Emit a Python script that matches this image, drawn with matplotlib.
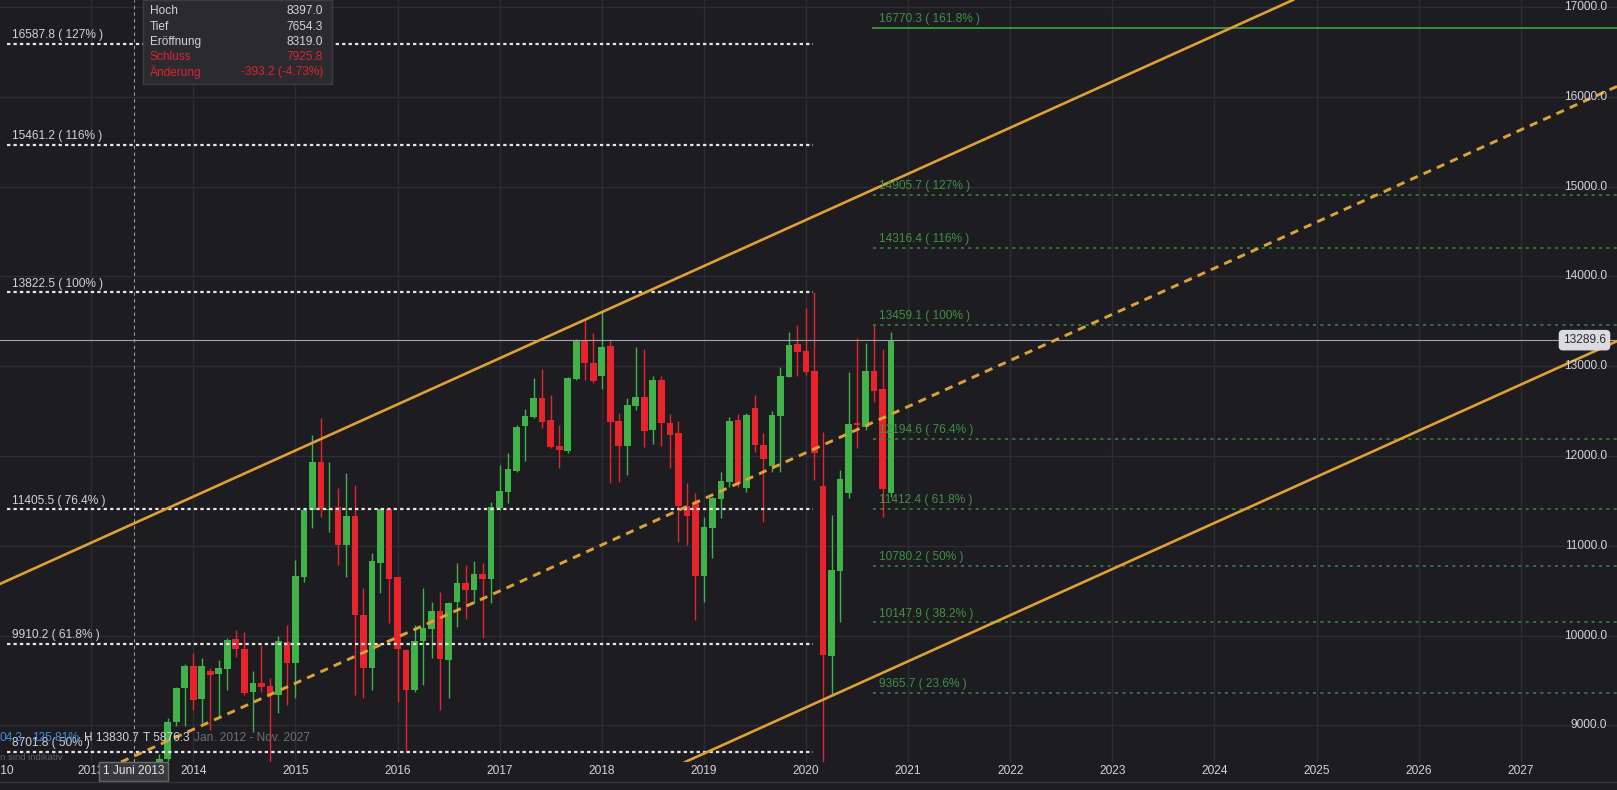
import numpy as np
import matplotlib
matplotlib.use('Agg')
import matplotlib.pyplot as plt
from matplotlib.patches import Rectangle
from matplotlib.lines import Line2D
from matplotlib.transforms import blended_transform_factory

plt.rcParams['font.family'] = ['Liberation Sans', 'DejaVu Sans']

# monthly candles, Jun 2013 .. Nov 2020 (month index 0 = Jan 2014)
first_month = -7
opens = [8319.0, 7926, 8300, 8140, 8625, 9038, 9413,
         9661, 9294, 9606, 9572, 9632, 9958, 9847, 9375, 9468, 9438, 9338, 9932,
         9698, 10656, 11399, 11937, 11395, 11436, 11009, 11332, 10229, 9635, 10812, 11406,
         10656, 9840, 9394, 9943, 10070, 10274, 9728, 10378, 10589, 10508, 10682, 10630,
         11417, 11603, 11837, 12334, 12438, 12642, 12401, 12115, 12059, 12854, 13292, 13039,
         12891, 13225, 12390, 12115, 12560, 12661, 12289, 12846, 12371, 12252, 11443, 11473,
         10664, 11194, 11521, 11707, 12401, 11647, 12531, 12122, 11889, 12445, 12883, 13247,
         13169, 12946, 11666, 9777, 10723, 11592, 12371, 12326, 12946, 12746, 11592]
highs = [8397.0, 8480, 8450, 8680, 9078, 9431, 9680,
         9802, 9747, 9635, 9728, 9970, 10062, 10036, 9606, 9895, 9524, 9995, 10118,
         10842, 11406, 12234, 12419, 11937, 11640, 11807, 11677, 10526, 10923, 11417, 11420,
         10660, 9850, 10118, 10526, 10378, 10482, 10378, 10812, 10786, 10831, 10812, 11491,
         11900, 12037, 12345, 12520, 12865, 12965, 12679, 12345, 12880, 13299, 13514, 13366,
         13607, 13299, 12475, 12642, 13218, 13188, 12891, 12891, 12468, 12390, 11695, 11584,
         11324, 11547, 11826, 12438, 12468, 12475, 12675, 12260, 12505, 12987, 13377, 13459,
         13644, 13830.7, 12271, 11343, 11844, 12939, 13310, 13262, 13459, 13188, 13385]
lows = [7654.3, 7800, 8060, 8110, 8600, 8990, 8990,
        9171, 9023, 8949, 9097, 9394, 9758, 9340, 8930, 9376, 8596, 9134, 9227,
        9300, 10600, 11194, 11324, 11157, 10786, 10656, 9338, 9301, 9394, 10471, 10136,
        9264, 8707, 9375, 9450, 9747, 9171, 9301, 10099, 10181, 10359, 9969, 10359,
        11400, 11473, 11826, 11944, 12419, 12308, 12090, 11863, 12037, 12850, 12846, 12809,
        12742, 11703, 11714, 11788, 12512, 12104, 12134, 12111, 11863, 11046, 11009, 10174,
        10378, 10860, 11306, 11658, 11658, 11603, 12041, 11269, 11825, 11825, 12876, 12891,
        12900, 11733, 8577, 9338, 10155, 11528, 12085, 12290, 12600, 11324, 11547]
closes = [7925.8, 8300, 8140, 8625, 9038, 9413, 9661,
          9282, 9661, 9561, 9635, 9951, 9847, 9364, 9468, 9431, 9338, 9943, 9691,
          10664, 11399, 11937, 11406, 11415, 11009, 11332, 10229, 9635, 10831, 11406, 10626,
          9847, 9394, 9940, 10081, 10274, 9736, 10367, 10582, 10508, 10682, 10627, 11436,
          11610, 11851, 12327, 12445, 12642, 12382, 12104, 12067, 12872, 13292, 13039, 12839,
          13218, 12382, 12115, 12568, 12661, 12282, 12846, 12371, 12234, 11443, 11332, 10664,
          11206, 11528, 11722, 12390, 11703, 12457, 12126, 11967, 12457, 12891, 13236, 13162,
          12939, 12037, 9784, 10730, 11744, 12356, 12345, 12946, 12727, 11632, 13289.6]

# fib retracement (white) and fib extension (green)
fib_white_levels = [16587.8, 15461.2, 13822.5, 11405.5, 9910.2, 8701.8]
fib_white_pct = ['127%', '116%', '100%', '76.4%', '61.8%', '50%']
fib_white_span = (-21.9, 72.8)
fib_green_levels = [16770.3, 14905.7, 14316.4, 13459.1, 12194.6, 11412.4, 10780.2, 10147.9, 9365.7]
fib_green_pct = ['161.8%', '127%', '116%', '100%', '76.4%', '61.8%', '50%', '38.2%', '23.6%']
fib_green_start = 79.9

# parallel channel anchors (Jan 2012 -> Nov 2027)
chan_months = (-24, 166)
chan_upper = (10520, 18652)
chan_middle = (7928, 16060)
chan_lower = (5091, 13223)

last_price = 13289.6
price_ticks = [9000, 10000, 11000, 12000, 13000, 14000, 15000, 16000, 17000]
years = list(range(2013, 2028))

BG = '#1c1c21'
GRID = '#2c2c33'
UP = '#41b14a'
DOWN = '#e8232b'
ORANGE = '#dea135'
TXT = '#d2d4d8'
GREEN_TXT = '#3f9143'
FS = 8.6

W, H = 1617, 790
fig = plt.figure(figsize=(W / 100, H / 100), dpi=100)
fig.patch.set_facecolor(BG)
ax = fig.add_axes([0, 28 / H, 1, 762 / H])
ax.set_facecolor(BG)
ax.set_xlim(-22.71, 167.3)
ax.set_ylim(8592, 17078)
ax.axis('off')

# grid
for yr in years:
    ax.axvline((yr - 2014) * 12, color=GRID, lw=1, zorder=0)
for p in price_ticks:
    ax.axhline(p, color=GRID, lw=1, zorder=0)

# candles
x = np.arange(first_month, first_month + len(opens))
o = np.array(opens); c = np.array(closes)
hi = np.array(highs); lo = np.array(lows)
cols = np.where(c >= o, UP, DOWN)
ax.vlines(x, lo, hi, colors=cols, lw=1, zorder=2)
ax.bar(x, np.maximum(np.abs(c - o), 12), bottom=np.minimum(o, c), width=0.78,
       color=cols, zorder=2)

# white fib levels
for lev, pct in zip(fib_white_levels, fib_white_pct):
    ax.plot(fib_white_span, [lev, lev], color='#e6e6e6', lw=1.6, dashes=(1.5, 1.4), zorder=3)
    ax.annotate(f'{lev:.1f} ( {pct} )', (fib_white_span[0], lev), xytext=(4, 2),
                textcoords='offset points', color=TXT, fontsize=FS, va='bottom', zorder=5)

# green fib levels
for i, (lev, pct) in enumerate(zip(fib_green_levels, fib_green_pct)):
    if i == 0:
        ax.plot([fib_green_start, 170], [lev, lev], color='#3c9a40', lw=1.3, zorder=3)
    else:
        ax.plot([fib_green_start, 170], [lev, lev], color='#3a8a3d', lw=1.1,
                dashes=(2, 2.8), zorder=3)
    ax.annotate(f'{lev:.1f} ( {pct} )', (fib_green_start, lev), xytext=(4, 2),
                textcoords='offset points', color=GREEN_TXT, fontsize=FS, va='bottom', zorder=5)

# channel
ax.axline((chan_months[0], chan_upper[0]), (chan_months[1], chan_upper[1]),
          color=ORANGE, lw=1.9, zorder=4)
ax.axline((chan_months[0], chan_lower[0]), (chan_months[1], chan_lower[1]),
          color=ORANGE, lw=1.9, zorder=4)
ax.axline((chan_months[0], chan_middle[0]), (chan_months[1], chan_middle[1]),
          color=ORANGE, lw=2.1, dashes=(2.8, 2.2), zorder=4)

# last price line + crosshair
ax.axhline(last_price, color='#a3a4ab', lw=0.8, zorder=3)
ax.axvline(first_month, color='#9a9ba3', lw=0.8, dashes=(3, 3), zorder=3)

# price axis labels (overlay on the right)
ytr = blended_transform_factory(fig.transFigure, ax.transData)
for p in price_ticks:
    ax.text(1607 / W, p, f'{p:.1f}', transform=ytr, ha='right', va='center',
            color=TXT, fontsize=FS, zorder=6)
ax.text(1606 / W, last_price, f'{last_price:.1f}', transform=ytr, ha='right', va='center',
        color='#2a2a2e', fontsize=FS, zorder=7,
        bbox=dict(boxstyle='round,pad=0.3', fc='#dcdce0', ec='#dcdce0'))

# time axis labels
xtr = blended_transform_factory(ax.transData, fig.transFigure)
ax.text(-22.6, 1 - 771.5 / H, '2010', transform=xtr, ha='center', va='center',
        color=TXT, fontsize=FS, clip_on=False)
for yr in years:
    ax.text((yr - 2014) * 12, 1 - 771.5 / H, str(yr), transform=xtr, ha='center',
            va='center', color=TXT, fontsize=FS, clip_on=False)
ax.text(first_month, 1 - 771.5 / H, '1 Juni 2013', transform=xtr, ha='center', va='center',
        color='#e8e8ea', fontsize=FS, zorder=8,
        bbox=dict(boxstyle='square,pad=0.3', fc='#38383d', ec='#6a6a70'))
fig.add_artist(Line2D([0, 1], [1 - 782 / H] * 2, color='#34343a', lw=1))

# channel stats row
row_y = 1 - 738 / H
fig.text(0, row_y, '04.3', color='#3d8ee0', fontsize=FS, va='center')
fig.text(32 / W, row_y, '125.81%', color='#3d8ee0', fontsize=FS, va='center')
fig.text(84 / W, row_y, 'H 13830.7', color=TXT, fontsize=FS, va='center')
fig.text(143 / W, row_y, 'T 5876.3', color=TXT, fontsize=FS, va='center')
fig.text(194 / W, row_y, 'Jan. 2012 - Nov. 2027', color='#6f7077', fontsize=FS, va='center')
fig.text(-20 / W, 1 - 757 / H, 'Daten sind indikativ', color='#5a5b61', fontsize=6.8, va='center')

# OHLC tooltip
fig.add_artist(Rectangle((142.7 / W, 1 - 84 / H), 189 / W, 84 / H, transform=fig.transFigure,
                         fc='#2a2a2f', ec='#3c3c43', lw=1, zorder=9))
tip_rows = [('Hoch', '8397.0', TXT), ('Tief', '7654.3', TXT), ('Eröffnung', '8319.0', TXT),
            ('Schluss', '7925.8', '#d9262e'), ('Änderung', '-393.2 (-4.73%)', '#d9262e')]
for i, (lab, val, col) in enumerate(tip_rows):
    yy = 1 - (11.5 + 15.2 * i) / H
    fig.text(150 / W, yy, lab, color=col, fontsize=FS, va='center', zorder=10)
    fig.text(323 / W, yy, val, color=col, fontsize=FS, va='center', ha='right', zorder=10)

fig.savefig('out.png', dpi=100, facecolor=BG)
